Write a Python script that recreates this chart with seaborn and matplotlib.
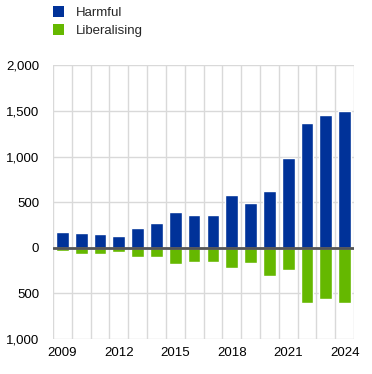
import matplotlib
matplotlib.use("Agg")
import matplotlib.pyplot as plt
import matplotlib.ticker as mticker
from matplotlib.patches import Patch
import pandas as pd
import seaborn as sns

# --- Data ---
years = list(range(2009, 2025))
harmful = [172, 161, 150, 128, 216, 271, 391, 358, 358, 578, 490, 622, 983, 1367, 1455, 1499]
liberalising = [-33, -66, -66, -44, -99, -99, -175, -153, -153, -219, -164, -307, -241, -602, -558, -602]
series_names = ["Harmful", "Liberalising"]

COLORS = {"Harmful": "#003299", "Liberalising": "#65b800"}
GRID = "#d9d9d9"

df = pd.concat([
    pd.DataFrame({"year": years, "value": harmful, "series": "Harmful"}),
    pd.DataFrame({"year": years, "value": liberalising, "series": "Liberalising"}),
], ignore_index=True)

sns.set_style("white")
plt.rcParams["font.family"] = ["Liberation Sans", "DejaVu Sans"]
plt.rcParams["font.size"] = 9.5

fig = plt.figure(figsize=(3.72, 3.74), dpi=100)
ax = fig.add_axes([0.1425, 0.0936, 0.8091, 0.7318])

sns.barplot(data=df, x="year", y="value", hue="series", dodge=False,
            palette=COLORS, width=0.68, saturation=1, ax=ax, legend=False,
            zorder=3)

n = len(years)
ax.set_xlim(-0.5, n - 0.5)
ax.set_ylim(-1000, 2000)

# major ticks: every third year label; minor ticks: category boundaries (grid)
ax.xaxis.set_major_locator(mticker.FixedLocator(list(range(0, n, 3))))
ax.set_xticklabels([str(y) for y in years[::3]])
ax.xaxis.set_minor_locator(mticker.FixedLocator([i + 0.5 for i in range(-1, n)]))
ax.grid(True, which="minor", axis="x", color=GRID, linewidth=1, zorder=0)
ax.grid(False, which="major", axis="x")

ax.yaxis.set_major_locator(mticker.MultipleLocator(500))
ax.yaxis.set_major_formatter(mticker.FuncFormatter(lambda v, p: f"{abs(v):,.0f}"))
ax.grid(True, which="major", axis="y", color=GRID, linewidth=1, zorder=0)

ax.axhline(0, color="#555555", linewidth=2, zorder=4)

for s in ax.spines.values():
    s.set_visible(False)
ax.tick_params(axis="both", which="both", length=0, labelsize=9.5, colors="black")
ax.tick_params(axis="x", pad=6)
ax.tick_params(axis="y", pad=10)
ax.set_xlabel("")
ax.set_ylabel("")

handles = [Patch(facecolor=COLORS[s], edgecolor="none") for s in series_names]
fig.legend(handles, series_names, loc="upper left", bbox_to_anchor=(0.1425, 0.984),
           frameon=False, borderpad=0, borderaxespad=0,
           handlelength=0.85, handleheight=0.85, handletextpad=0.85,
           labelspacing=0.4, fontsize=9.5)

fig.savefig("out.png", dpi=100)
